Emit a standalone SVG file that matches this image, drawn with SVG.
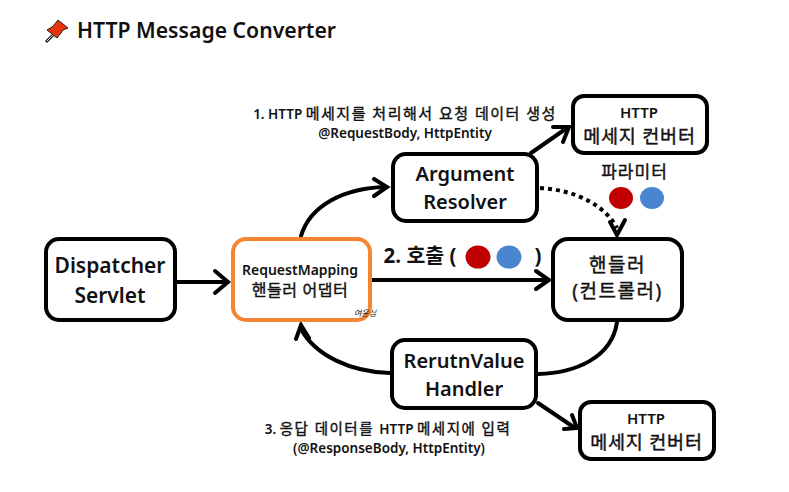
<svg xmlns="http://www.w3.org/2000/svg" width="789" height="492" viewBox="0 0 789 492">
<style>
text{font-family:"Noto Sans","Noto Sans CJK KR",sans-serif;fill:#111;text-anchor:middle}
.box{fill:#fff;stroke:#000;stroke-width:4}
.adapter{fill:#fff;stroke:#f58433;stroke-width:4}
.line{fill:none;stroke:#000;stroke-width:4;stroke-linecap:round}
.head{fill:none;stroke:#000;stroke-width:4;stroke-linecap:round;stroke-linejoin:miter}
.b{font-weight:700}
.m{font-weight:600}
.k{font-weight:400;stroke:#111;stroke-width:.4}
.s{font-weight:600;font-size:13.500px;stroke:none}
</style>
<rect width="789" height="492" fill="#fff"/>
<g id="title">
<g id="pin">
<path d="M46 42 L53 35" stroke="#222" stroke-width="3" fill="none"/>
<path d="M47 41 L53 35" stroke="#ddd" stroke-width="1" fill="none"/>
<path d="M58 20 L68 28 L63 30 L61 33 L57 38 L47 30 L52 27 L54 25 Z" fill="#e8340c" stroke="#222" stroke-width="1"/>
</g>
<text class="m" x="206.500" y="38" font-size="21.200">HTTP Message Converter</text>
</g>
<g id="connectors">
<path class="line" d="M177 282H227"/><path class="head" d="M215 271L228 282L215 293"/>
<path class="line" d="M372 280H547"/><path class="head" d="M536 271L549 280L536 289"/>
<path class="line" d="M301 236C310 205 345 188 385 187"/><path class="head" d="M374 179L387 187L374 196"/>
<path class="line" d="M531 153L567 128"/><path class="head" d="M553 127L569 127L563 142"/>
<path class="line" d="M540 188C575 190 605 205 617 228" stroke-dasharray="4 4" style="stroke-linecap:butt"/><path class="head" d="M610 222L617 235L625 220"/>
<path class="line" d="M617 322C612 358 575 373 538 374"/>
<path class="line" d="M390 373C350 372 315 355 301 329"/><path class="head" d="M296 339L301 325L309 338"/>
<path class="line" d="M538 403L575 428"/><path class="head" d="M564 429L577 428L572 415"/>
</g>
<g id="dispatcher-servlet">
<rect class="box" x="46" y="239" width="129" height="81" rx="13"/>
<text class="m" x="110" y="273" font-size="21">Dispatcher</text>
<text class="m" x="110" y="303" font-size="21">Servlet</text>
</g>
<g id="handler-adapter">
<rect class="adapter" x="233" y="239" width="137" height="81" rx="13"/>
<text class="m" x="300" y="275" font-size="14">RequestMapping</text>
<text class="k" x="300" y="296" font-size="16" letter-spacing="0.600">핸들러 어댑터</text>
<text x="365" y="316" font-size="8" font-style="italic">여윤심</text>
</g>
<g id="argument-resolver">
<rect class="box" x="393" y="154" width="144" height="67" rx="13"/>
<text class="m" x="465" y="181" font-size="20">Argument</text>
<text class="m" x="465" y="209" font-size="20">Resolver</text>
</g>
<g id="http-converter-top">
<rect class="box" x="573" y="96" width="134" height="57" rx="11"/>
<text class="m" x="639" y="118" font-size="15">HTTP</text>
<text class="k" x="639.500" y="143" font-size="18.500" letter-spacing="0.800">메세지 컨버터</text>
</g>
<g id="handler">
<rect class="box" x="553" y="239" width="129" height="81" rx="15"/>
<text class="k" x="617.500" y="272" font-size="19" letter-spacing="1.500">핸들러</text>
<text class="k" x="617.500" y="298" font-size="19" letter-spacing="1.500">(컨트롤러)</text>
</g>
<g id="return-value-handler">
<rect class="box" x="392" y="340" width="144" height="68" rx="13"/>
<text class="m" x="464" y="368" font-size="20">RerutnValue</text>
<text class="m" x="464" y="396" font-size="20">Handler</text>
</g>
<g id="http-converter-bottom">
<rect class="box" x="580" y="402" width="134" height="57" rx="11"/>
<text class="m" x="646" y="424" font-size="15">HTTP</text>
<text class="k" x="646.500" y="449" font-size="18.500" letter-spacing="0.800">메세지 컨버터</text>
</g>
<g id="labels">
<text class="k" x="405" y="119" font-size="15" letter-spacing="1.500"><tspan class="s" letter-spacing="0">1. HTTP </tspan>메세지를 처리해서 요청 데이터 생성</text>
<text class="m" x="405" y="138" font-size="13.500">@RequestBody, HttpEntity</text>
<text class="k" x="634.500" y="178" font-size="17" letter-spacing="1">파라미터</text>
<ellipse cx="621" cy="198" rx="12" ry="11" fill="#c00000"/>
<ellipse cx="652" cy="198" rx="12" ry="11" fill="#4a86cf"/>
<text class="b" x="420" y="263" font-size="20.500">2. 호출 (</text>
<ellipse cx="478" cy="257" rx="12.500" ry="11.500" fill="#c00000"/>
<ellipse cx="509" cy="257" rx="12.500" ry="11.500" fill="#4a86cf"/>
<text class="b" x="538" y="263" font-size="20.500">)</text>
<text class="k" x="388" y="434" font-size="14.500" letter-spacing="1.500"><tspan class="s" letter-spacing="0">3. </tspan>응답 데이터를 <tspan class="s" letter-spacing="0">HTTP </tspan>메세지에 입력</text>
<text class="m" x="389" y="453" font-size="13.500">(@ResponseBody, HttpEntity)</text>
</g>
</svg>
